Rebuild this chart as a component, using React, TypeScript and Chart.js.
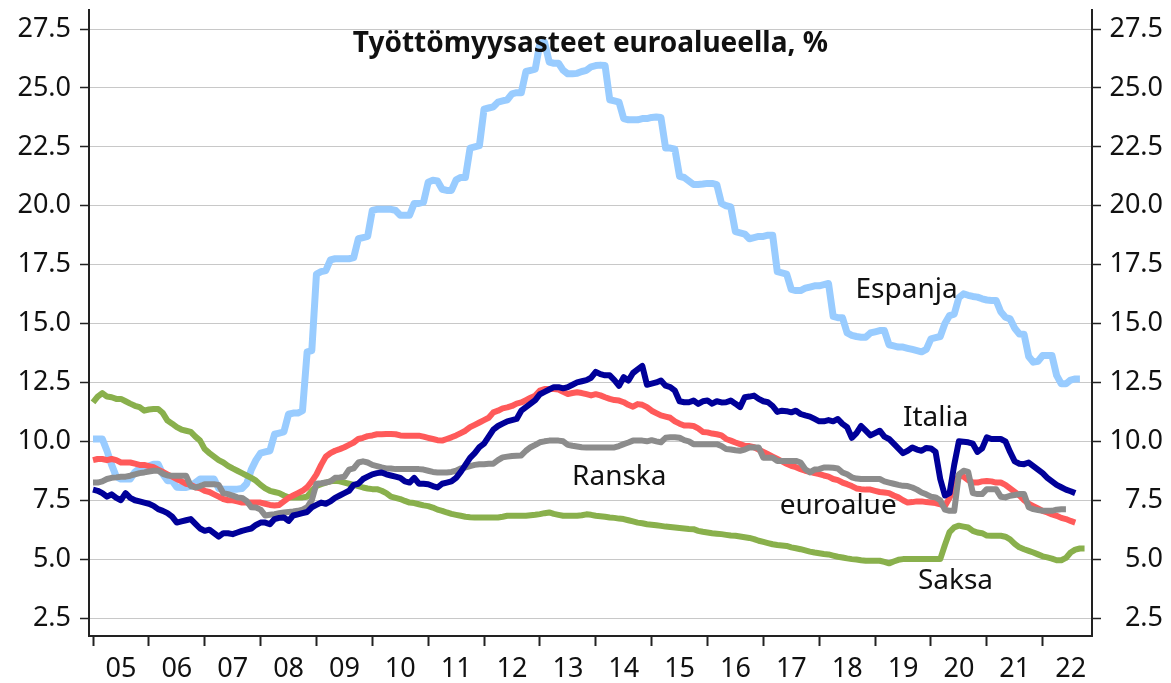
import React, { useEffect, useRef } from 'react';
import Chart from 'chart.js/auto';

// Monthly unemployment rates, starting January 2005 (index 0 = 2005-01)
const yearLabels = ['05', '06', '07', '08', '09', '10', '11', '12', '13', '14', '15', '16', '17', '18', '19', '20', '21', '22'];
const yTicks = [2.5, 5, 7.5, 10, 12.5, 15, 17.5, 20, 22.5, 25, 27.5];

const espanja = [
  10.1, 10.1, 10.1, 9.6, 9.0, 8.5, 8.4, 8.4, 8.4, 8.7, 8.85, 8.9,
  8.95, 9.03, 9.03, 8.6, 8.33, 8.33, 8.05, 8.04, 8.04, 8.1, 8.25, 8.4,
  8.4, 8.4, 8.4, 8.0, 7.97, 7.97, 7.97, 7.97, 8.0, 8.2, 8.8, 9.2,
  9.5, 9.55, 9.6, 10.3, 10.35, 10.4, 11.15, 11.2, 11.2, 11.3, 13.8, 13.85,
  17.1, 17.2, 17.25, 17.7, 17.75, 17.75, 17.75, 17.75, 17.8, 18.6, 18.65, 18.7,
  19.8, 19.85, 19.85, 19.85, 19.85, 19.8, 19.6, 19.6, 19.6, 20.1, 20.1, 20.15,
  21.0, 21.08, 21.05, 20.7, 20.65, 20.65, 21.1, 21.2, 21.2, 22.45, 22.5, 22.55,
  24.1, 24.15, 24.2, 24.4, 24.45, 24.5, 24.75, 24.8, 24.8, 25.7, 25.75, 25.8,
  26.9, 26.95, 26.1, 26.05, 26.05, 25.75, 25.6, 25.6, 25.62, 25.7, 25.75, 25.9,
  25.95, 25.97, 25.95, 24.5, 24.45, 24.4, 23.7, 23.65, 23.65, 23.65, 23.7, 23.7,
  23.75, 23.77, 23.75, 22.45, 22.45, 22.4, 21.25, 21.2, 21.05, 20.9, 20.9, 20.92,
  20.95, 20.95, 20.9, 20.1, 20.0, 19.95, 18.9, 18.85, 18.8, 18.6, 18.65, 18.7,
  18.7, 18.75, 18.75, 17.2, 17.15, 17.1, 16.45, 16.4, 16.4, 16.5, 16.55, 16.6,
  16.6, 16.65, 16.7, 15.3, 15.25, 15.25, 14.6, 14.5, 14.45, 14.42, 14.42, 14.6,
  14.65, 14.7, 14.7, 14.1, 14.05, 14.0, 14.0, 13.95, 13.9, 13.85, 13.8, 13.9,
  14.35, 14.4, 14.45, 15.0, 15.34, 15.4, 16.1, 16.26, 16.2, 16.15, 16.12, 16.05,
  16.0, 15.98, 15.98, 15.5, 15.27, 15.2, 14.8, 14.56, 14.55, 13.6, 13.36, 13.4,
  13.64, 13.64, 13.64, 12.8, 12.44, 12.44, 12.6, 12.65, 12.65,
];

const italia = [
  7.95, 7.9, 7.8, 7.65, 7.75, 7.6, 7.5, 7.8, 7.6, 7.5, 7.45, 7.4,
  7.35, 7.26, 7.12, 7.05, 6.95, 6.8, 6.55, 6.6, 6.65, 6.7, 6.5, 6.3,
  6.2, 6.25, 6.1, 5.95, 6.1, 6.1, 6.06, 6.13, 6.2, 6.25, 6.3, 6.45,
  6.55, 6.55, 6.48, 6.7, 6.75, 6.77, 6.62, 6.85, 6.9, 6.95, 7.0, 7.2,
  7.3, 7.4, 7.35, 7.45, 7.6, 7.7, 7.8, 7.9, 8.15, 8.2, 8.4, 8.5,
  8.6, 8.65, 8.68, 8.6, 8.55, 8.5, 8.45, 8.3, 8.25, 8.45, 8.2, 8.2,
  8.18, 8.1, 8.04, 8.2, 8.25, 8.3, 8.45, 8.7, 9.0, 9.3, 9.5, 9.75,
  9.9, 10.2, 10.5, 10.65, 10.75, 10.85, 10.9, 10.95, 11.3, 11.45, 11.6, 11.75,
  12.0, 12.1, 12.2, 12.3, 12.3, 12.25, 12.3, 12.4, 12.5, 12.55, 12.6, 12.7,
  12.95, 12.85, 12.8, 12.8, 12.6, 12.36, 12.72, 12.58, 12.9, 13.05, 13.2, 12.4,
  12.45, 12.5, 12.58, 12.36, 12.3, 12.15, 11.7, 11.66, 11.66, 11.73, 11.59, 11.7,
  11.73, 11.6, 11.7, 11.65, 11.66, 11.73, 11.6, 11.45, 11.87, 11.9, 11.94, 11.8,
  11.7, 11.66, 11.5, 11.25, 11.3, 11.28, 11.23, 11.3, 11.16, 11.1, 11.05, 10.95,
  10.85, 10.85, 10.9, 10.85, 10.95, 10.74, 10.6, 10.15, 10.35, 10.65, 10.45, 10.25,
  10.35, 10.45, 10.2, 10.1, 9.9, 9.7, 9.5, 9.6, 9.74, 9.65, 9.6, 9.72,
  9.7, 9.55, 8.4, 7.7, 7.8, 9.0, 10.0, 9.98, 9.96, 9.9, 9.55, 9.7,
  10.17, 10.1, 10.1, 10.1, 10.0, 9.55, 9.15, 9.05, 9.03, 9.1, 8.95, 8.8,
  8.65, 8.45, 8.3, 8.15, 8.05, 7.95, 7.88, 7.8,
];

const ranska = [
  9.2, 9.25, 9.25, 9.2, 9.25, 9.2, 9.1, 9.1, 9.1, 9.05, 9.0, 9.0,
  8.95, 8.9, 8.8, 8.7, 8.6, 8.5, 8.4, 8.3, 8.2, 8.15, 8.05, 8.0,
  7.9, 7.85, 7.75, 7.65, 7.55, 7.5, 7.5, 7.45, 7.4, 7.4, 7.4, 7.4,
  7.4, 7.35, 7.3, 7.28, 7.3, 7.45, 7.6, 7.7, 7.8, 7.9, 8.05, 8.3,
  8.6, 9.0, 9.35, 9.5, 9.6, 9.67, 9.75, 9.85, 9.95, 10.1, 10.15, 10.22,
  10.25, 10.3, 10.3, 10.31, 10.31, 10.3, 10.25, 10.24, 10.24, 10.24, 10.24, 10.2,
  10.15, 10.1, 10.05, 10.03, 10.1, 10.17, 10.25, 10.35, 10.45, 10.6, 10.7, 10.8,
  10.9, 11.0, 11.23, 11.3, 11.4, 11.44, 11.5, 11.6, 11.65, 11.75, 11.85, 11.94,
  12.15, 12.22, 12.22, 12.22, 12.2, 12.1, 12.01, 12.05, 12.08, 12.05, 12.0, 11.95,
  12.0, 11.95, 11.87, 11.8, 11.75, 11.73, 11.66, 11.55, 11.47, 11.58, 11.55, 11.45,
  11.3, 11.2, 11.1, 11.05, 11.0, 10.85, 10.75, 10.67, 10.67, 10.65, 10.55, 10.4,
  10.38, 10.33, 10.3, 10.25, 10.1, 10.03, 9.95, 9.88, 9.81, 9.8, 9.75, 9.65,
  9.55, 9.45, 9.35, 9.25, 9.15, 9.05, 8.96, 8.9, 8.82, 8.75, 8.7, 8.65,
  8.61, 8.55, 8.5, 8.4, 8.35, 8.25, 8.18, 8.1, 8.0, 7.97, 7.95, 7.95,
  7.9, 7.85, 7.83, 7.8, 7.7, 7.62, 7.5, 7.4, 7.42, 7.45, 7.45, 7.42,
  7.4, 7.38, 7.33, 7.25, 7.6, 8.15, 8.55, 8.5, 8.35, 8.25, 8.25, 8.3,
  8.32, 8.3, 8.25, 8.25, 8.15, 8.0, 7.85, 7.7, 7.5, 7.35, 7.25, 7.15,
  7.05, 6.98, 6.9, 6.84, 6.75, 6.7, 6.62, 6.55,
];

const euroalue = [
  8.25, 8.25, 8.3, 8.4, 8.45, 8.47, 8.5, 8.5, 8.54, 8.6, 8.65, 8.68,
  8.72, 8.75, 8.75, 8.62, 8.55, 8.54, 8.54, 8.54, 8.54, 8.1, 8.04, 8.1,
  8.18, 8.18, 8.18, 8.15, 7.8, 7.76, 7.7, 7.62, 7.6, 7.47, 7.2, 7.19,
  7.1, 6.85, 6.88, 6.91, 6.95, 6.98, 7.0, 7.02, 7.05, 7.1, 7.2, 7.5,
  8.2, 8.22, 8.25, 8.3, 8.45, 8.47, 8.5, 8.8, 8.85, 9.1, 9.15, 9.1,
  9.0, 8.95, 8.89, 8.85, 8.85, 8.82, 8.82, 8.82, 8.82, 8.82, 8.82, 8.8,
  8.75, 8.7, 8.68, 8.68, 8.68, 8.7, 8.75, 8.85, 8.89, 8.95, 9.0, 9.03,
  9.03, 9.05, 9.05, 9.2, 9.32, 9.35, 9.38, 9.39, 9.4, 9.6, 9.75, 9.85,
  9.96, 10.0, 10.03, 10.03, 10.03, 10.0, 9.85, 9.81, 9.78, 9.75, 9.74, 9.74,
  9.74, 9.74, 9.74, 9.74, 9.74, 9.8, 9.88, 9.95, 10.03, 10.03, 10.03, 10.0,
  10.05, 10.0, 9.96, 10.15, 10.17, 10.17, 10.15, 10.05, 10.0, 9.88, 9.88, 9.88,
  9.88, 9.88, 9.88, 9.8, 9.67, 9.65, 9.62, 9.6, 9.65, 9.74, 9.74, 9.74,
  9.3, 9.3, 9.3, 9.17, 9.17, 9.17, 9.17, 9.17, 9.1, 8.82, 8.68, 8.8,
  8.82, 8.89, 8.89, 8.88, 8.85, 8.68, 8.6, 8.47, 8.42, 8.4, 8.4, 8.4,
  8.4, 8.4, 8.3, 8.25, 8.2, 8.15, 8.11, 8.1, 8.04, 7.95, 7.83, 7.75,
  7.65, 7.62, 7.5, 7.1, 7.05, 7.05, 8.6, 8.75, 8.7, 7.8, 7.76, 7.76,
  7.97, 7.97, 7.97, 7.65, 7.62, 7.69, 7.72, 7.76, 7.76, 7.2, 7.12, 7.08,
  7.05, 7.05, 7.05, 7.1, 7.12, 7.12,
];

const saksa = [
  11.65, 11.9, 12.05, 11.9, 11.87, 11.8, 11.8, 11.7, 11.6, 11.51, 11.45, 11.3,
  11.35, 11.37, 11.37, 11.2, 10.88, 10.75, 10.6, 10.5, 10.45, 10.4, 10.2, 10.03,
  9.67, 9.5, 9.35, 9.2, 9.1, 8.96, 8.85, 8.75, 8.65, 8.55, 8.45, 8.33,
  8.15, 8.0, 7.9, 7.85, 7.8, 7.7, 7.62, 7.62, 7.62, 7.62, 7.65, 7.9,
  8.1, 8.18, 8.25, 8.3, 8.33, 8.3, 8.25, 8.2, 8.15, 8.1, 8.04, 8.0,
  7.97, 7.97, 7.9, 7.8, 7.65, 7.6, 7.55, 7.47, 7.4, 7.38, 7.33, 7.28,
  7.25, 7.19, 7.1, 7.05, 6.98, 6.92, 6.88, 6.84, 6.8, 6.78, 6.77, 6.77,
  6.77, 6.77, 6.77, 6.77, 6.8, 6.84, 6.84, 6.84, 6.84, 6.84, 6.86, 6.88,
  6.91, 6.95, 6.98, 6.92, 6.88, 6.84, 6.84, 6.84, 6.84, 6.86, 6.9, 6.88,
  6.84, 6.82, 6.8, 6.77, 6.75, 6.72, 6.7, 6.65, 6.6, 6.55, 6.52, 6.48,
  6.46, 6.44, 6.41, 6.38, 6.36, 6.34, 6.32, 6.3, 6.28, 6.27, 6.2, 6.16,
  6.13, 6.1, 6.08, 6.06, 6.03, 6.0, 5.99, 5.96, 5.93, 5.9, 5.85, 5.78,
  5.73, 5.68, 5.63, 5.6, 5.58, 5.56, 5.5, 5.46, 5.42, 5.37, 5.32, 5.28,
  5.25, 5.22, 5.2, 5.15, 5.1, 5.07, 5.03, 5.0, 4.98, 4.95, 4.93, 4.93,
  4.93, 4.93, 4.88, 4.82, 4.9, 4.97, 5.0, 5.0, 5.0, 5.0, 5.0, 5.0,
  5.0, 5.0, 5.0, 5.6, 6.15, 6.35, 6.42, 6.38, 6.34, 6.2, 6.13, 6.1,
  6.0, 5.99, 5.99, 5.99, 5.95, 5.84, 5.65, 5.5, 5.42, 5.35, 5.28, 5.2,
  5.12, 5.07, 5.02, 4.95, 4.95, 5.05, 5.28, 5.4, 5.45, 5.45,
];

// Text annotations anchored in data space: month index (from 2005-01) and value (baseline)
const seriesLabels = ['Espanja', 'Italia', 'Ranska', 'euroalue', 'Saksa'];
const labelMonths = [163.8, 174.0, 102.9, 147.5, 177.2];
const labelValues = [16.09, 10.66, 8.14, 6.91, 3.72];
const titleText = 'Työttömyysasteet euroalueella, %';
const titleMonth = 106.85;
const titleValue = 26.51;

const FONT = '"Noto Sans", "DejaVu Sans", sans-serif';

const toPoints = (arr: number[]) => arr.map((v, i) => ({ x: i, y: v }));

export default function App() {
  const ref = useRef<HTMLCanvasElement | null>(null);

  useEffect(() => {
    if (!ref.current) return;
    const textPlugin = {
      id: 'chartTexts',
      afterDatasetsDraw(chart: any) {
        const { ctx } = chart;
        const xs = chart.scales.x;
        const ys = chart.scales.y;
        ctx.save();
        ctx.fillStyle = '#111111';
        ctx.textBaseline = 'alphabetic';
        ctx.textAlign = 'left';
        ctx.font = `28px ${FONT}`;
        seriesLabels.forEach((t, i) => {
          ctx.fillText(t, xs.getPixelForValue(labelMonths[i]), ys.getPixelForValue(labelValues[i]));
        });
        ctx.font = `bold 28px ${FONT}`;
        ctx.textAlign = 'center';
        ctx.fillText(titleText, xs.getPixelForValue(titleMonth), ys.getPixelForValue(titleValue));
        ctx.restore();
      },
    };

    const yMin = 1.736;
    const yMax = 28.31;
    const tickFont = { family: FONT, size: 27 };
    const axisColor = '#222222';
    const noPad = (s: any) => {
      s.paddingTop = 0;
      s.paddingBottom = 0;
      s.paddingLeft = 0;
      s.paddingRight = 0;
    };

    const chart = new Chart(ref.current, {
      type: 'line',
      data: {
        datasets: [
          { label: 'Italia', data: toPoints(italia), borderColor: '#000099', borderWidth: 6, order: 1 },
          { label: 'euroalue', data: toPoints(euroalue), borderColor: '#8c8c8c', borderWidth: 6, order: 2 },
          { label: 'Ranska', data: toPoints(ranska), borderColor: '#ff5a5a', borderWidth: 6, order: 3 },
          { label: 'Saksa', data: toPoints(saksa), borderColor: '#89b04c', borderWidth: 6, order: 4 },
          { label: 'Espanja', data: toPoints(espanja), borderColor: '#99ccff', borderWidth: 7, order: 5 },
        ].map((d) => ({
          ...d,
          pointRadius: 0,
          tension: 0,
          fill: false,
          borderJoinStyle: 'round' as const,
          borderCapStyle: 'butt' as const,
        })),
      },
      options: {
        animation: false,
        responsive: false,
        devicePixelRatio: 1,
        layout: { padding: { top: 10, right: 8, left: 0, bottom: 0 } },
        plugins: { legend: { display: false }, tooltip: { enabled: false }, title: { display: false } },
        scales: {
          x: {
            type: 'linear',
            min: -0.86,
            max: 214.6,
            afterBuildTicks: (s: any) => {
              s.ticks = yearLabels.map((_, i) => ({ value: i * 12 }));
            },
            afterFit: (s: any) => {
              s.height = 47;
              noPad(s);
            },
            ticks: {
              callback: (v: any) => yearLabels[Math.round(Number(v) / 12)],
              labelOffset: 28,
              maxRotation: 0,
              autoSkip: false,
              font: tickFont,
              color: '#111111',
              padding: 7,
            },
            grid: { drawOnChartArea: false, drawTicks: true, tickLength: 10, tickColor: axisColor, tickWidth: 2 },
            border: { display: true, color: axisColor, width: 2 },
          },
          y: {
            type: 'linear',
            position: 'left',
            min: yMin,
            max: yMax,
            afterBuildTicks: (s: any) => {
              s.ticks = yTicks.map((v) => ({ value: v }));
            },
            afterFit: (s: any) => {
              s.width = 89;
              noPad(s);
            },
            ticks: {
              callback: (v: any) => Number(v).toFixed(1),
              font: tickFont,
              color: '#111111',
              padding: 9,
            },
            grid: { color: '#c8c8c8', lineWidth: 1, drawTicks: true, tickLength: 9, tickColor: axisColor, tickWidth: 1.5 },
            border: { display: true, color: axisColor, width: 2 },
          },
          y2: {
            type: 'linear',
            position: 'right',
            min: yMin,
            max: yMax,
            afterBuildTicks: (s: any) => {
              s.ticks = yTicks.map((v) => ({ value: v }));
            },
            afterFit: (s: any) => {
              s.width = 71;
              noPad(s);
            },
            ticks: {
              callback: (v: any) => Number(v).toFixed(1),
              font: tickFont,
              color: '#111111',
              padding: 9,
              crossAlign: 'far',
            },
            grid: { drawOnChartArea: false, drawTicks: true, tickLength: 9, tickColor: axisColor, tickWidth: 1.5 },
            border: { display: true, color: axisColor, width: 2 },
          },
        },
      } as any,
      plugins: [textPlugin],
    });
    return () => chart.destroy();
  }, []);

  return (
    <div style={{ position: 'absolute', left: 0, top: 0, width: 1171, height: 683, background: '#ffffff' }}>
      <canvas ref={ref} width={1171} height={683} style={{ width: 1171, height: 683, display: 'block' }} />
    </div>
  );
}
